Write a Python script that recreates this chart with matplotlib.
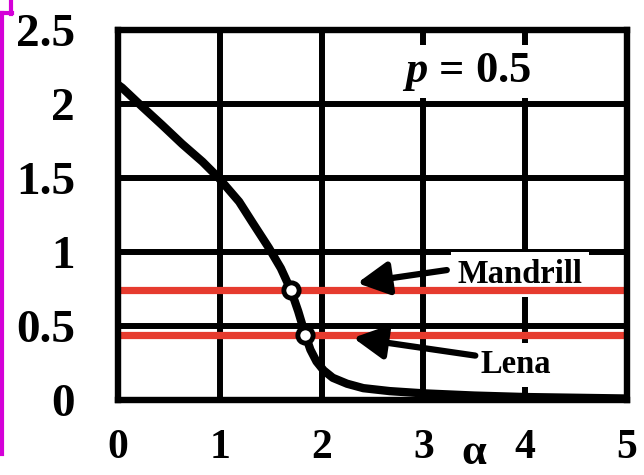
#!/usr/bin/env python

"""
Threshold curve versus alpha for p = 0.5, with the Mandrill and Lena
levels drawn as horizontal reference lines.
"""

import matplotlib.pyplot as plt
from matplotlib.lines import Line2D

alpha = [0.0, 0.04, 0.24, 0.43, 0.63, 0.83, 0.99, 1.19, 1.32, 1.48, 1.6,
         1.70, 1.77, 1.84, 1.89, 1.95, 2.02, 2.11, 2.25, 2.41, 2.67, 3.0,
         3.5, 4.0, 4.5, 5.0]
value = [2.13, 2.11, 1.98, 1.86, 1.73, 1.61, 1.50, 1.34, 1.20, 1.03, 0.89,
         0.74, 0.60, 0.44, 0.34, 0.26, 0.20, 0.15, 0.11, 0.08, 0.06, 0.045,
         0.03, 0.02, 0.015, 0.01]

# Reference levels and where they cut the curve
level_names = ["Mandrill", "Lena"]
level_values = [0.74, 0.44]
level_alpha = [1.70, 1.84]

x_ticks = [0, 1, 2, 3, 4, 5]
y_ticks = [0, 0.5, 1, 1.5, 2, 2.5]
y_tick_labels = ["0", "0.5", "1", "1.5", "2", "2.5"]

RED = "#e63b2e"
MAGENTA = "#d400d8"
SERIF = "Liberation Serif"

plt.rcParams["mathtext.fontset"] = "custom"
plt.rcParams["mathtext.it"] = "Liberation Serif:italic:bold"
plt.rcParams["mathtext.rm"] = "Liberation Serif:bold"

fig = plt.figure(figsize=(6.44, 4.75), dpi=100)
ax = fig.add_axes([118 / 644, 1 - 400 / 475, 509 / 644, 370 / 475])

# Grid and frame
ax.set_axisbelow(True)
ax.grid(True, color="black", lw=4.3)
for sp in ax.spines.values():
    sp.set_linewidth(4.6)
    sp.set_color("black")
    sp.set_zorder(6)

# Horizontal reference levels
for v in level_values:
    ax.axhline(v, color=RED, lw=5.2, zorder=4.2, solid_capstyle="butt")

# Main curve
ax.plot(alpha, value, color="black", lw=6, zorder=3,
        solid_capstyle="butt", solid_joinstyle="round")

# Intersection markers
ax.plot(level_alpha, level_values, "o", ms=11, mfc="white", mec="black",
        mew=3.5, zorder=5)

# Labels with white backing so the grid stops at them
ax.text(3.95, 0.79, level_names[0], ha="center", va="baseline",
        fontsize=23.5, fontweight="bold", family=SERIF, zorder=4,
        bbox=dict(facecolor="white", edgecolor="none", pad=5))
ax.text(3.91, 0.18, level_names[1], ha="center", va="baseline",
        fontsize=23.5, fontweight="bold", family=SERIF, zorder=4,
        bbox=dict(facecolor="white", edgecolor="none", pad=5))
ax.text(3.42, 2.15, r"$p$ = 0.5", ha="center", va="baseline",
        fontsize=32, fontweight="bold", family=SERIF, zorder=4,
        bbox=dict(facecolor="white", edgecolor="none", pad=4))

# Arrows from the labels to their lines
arrow_style = dict(arrowstyle="-|>,head_length=0.95,head_width=0.5",
                   color="black", lw=4.5, mutation_scale=20,
                   shrinkA=0, shrinkB=0)
ax.annotate("", xy=(2.35, 0.79), xytext=(3.23, 0.878),
            arrowprops=arrow_style, zorder=5)
ax.annotate("", xy=(2.31, 0.42), xytext=(3.51, 0.30),
            arrowprops=arrow_style, zorder=5)

ax.set_xlim(0, 5)
ax.set_ylim(0, 2.5)
ax.set_xticks(x_ticks)
ax.set_yticks(y_ticks)
ax.set_yticklabels(y_tick_labels)
ax.tick_params(axis="both", length=0)
ax.tick_params(axis="x", pad=21)
ax.tick_params(axis="y", pad=31)
for lab in ax.get_xticklabels():
    lab.set_fontsize(30)
    lab.set_fontweight("bold")
    lab.set_family(SERIF)
for lab in ax.get_yticklabels():
    lab.set_fontsize(34)
    lab.set_fontweight("bold")
    lab.set_family(SERIF)

ax.set_xlabel("α", fontsize=32, fontweight="bold", family=SERIF,
              va="bottom")
ax.xaxis.set_label_coords(3.5 / 5, -0.197)


# Magenta bracket along the left edge
def px(x, y):
    return x / 644, 1 - y / 475


for (x0, y0), (x1, y1) in [((2, 13), (2, 454)), ((0, 13), (12, 13)),
                           ((10.5, 0), (10.5, 14))]:
    a, b = px(x0, y0)
    c, d = px(x1, y1)
    fig.add_artist(Line2D([a, c], [b, d], color=MAGENTA, lw=3,
                          transform=fig.transFigure))

fig.savefig("out.png", dpi=100)
plt.close(fig)
